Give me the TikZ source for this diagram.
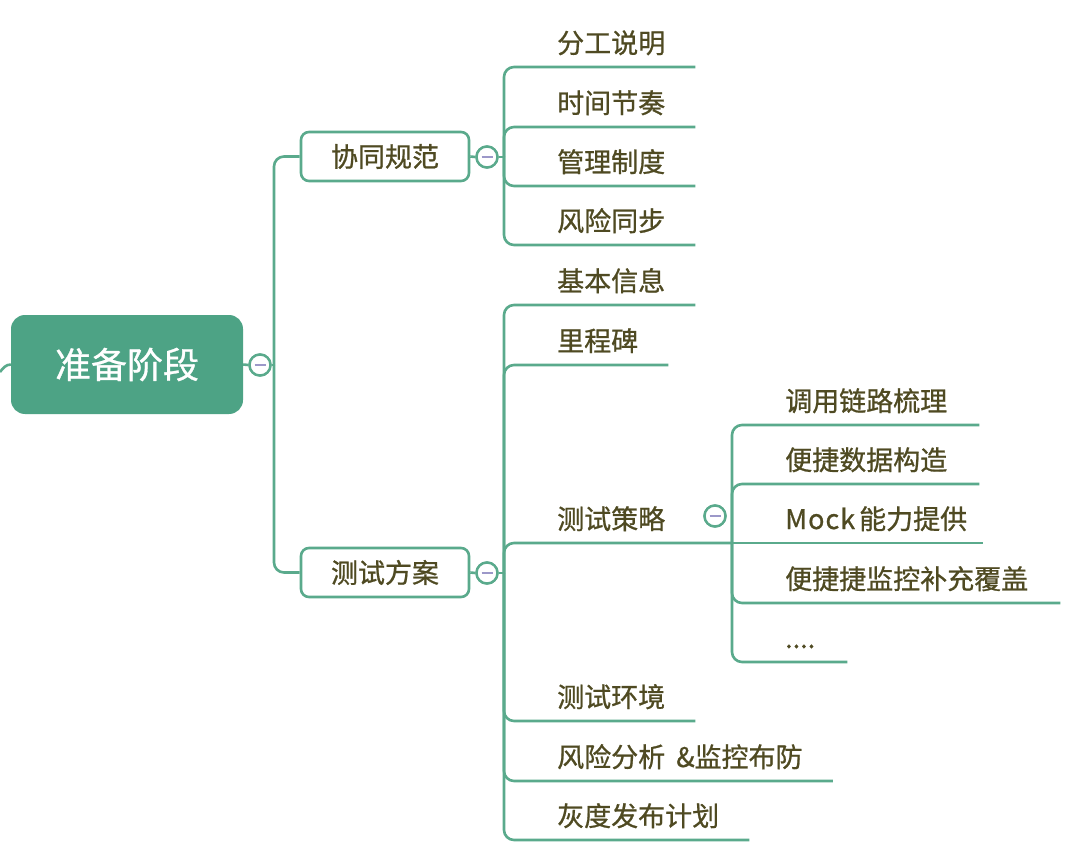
\documentclass[tikz,border=0pt]{standalone}
\usepackage{fontspec}
\setmainfont[FakeBold=0.8]{Noto Sans CJK SC}
\usetikzlibrary{calc}
\definecolor{teal1}{HTML}{5AAA8C}
\definecolor{rootfill}{HTML}{4DA385}
\definecolor{txt}{HTML}{4F4A22}
\definecolor{minuscol}{HTML}{9C98C9}
\begin{document}
\begin{tikzpicture}[x=1pt,y=-1pt,
 conn/.style={draw=teal1, line width=2.6pt, rounded corners=10pt},
 leaf/.style={anchor=base west, inner sep=0pt, text=txt, font=\fontsize{27}{27}\selectfont},
 topic/.style={draw=teal1, line width=2.6pt, rounded corners=8pt, fill=white, minimum width=168pt, minimum height=49pt, text=txt, font=\fontsize{27}{27}\selectfont, inner sep=0pt},
 rootbox/.style={fill=rootfill, rounded corners=14pt, minimum width=232pt, minimum height=99pt, text=white, font=\fontsize{36}{36}\selectfont, inner sep=0pt},
 btn/.style={circle, draw=teal1, line width=2.4pt, fill=white, minimum size=21pt, inner sep=0pt,
   path picture={\draw[minuscol, line width=2.6pt] ([xshift=-5.5pt]path picture bounding box.center) -- ([xshift=5.5pt]path picture bounding box.center);}}
]
\fill[white] (0,0) rectangle (1080,856);
\useasboundingbox (0,0) rectangle (1080,856);

% root and topics
\node[rootbox] (root) at (127,364.5) {准备阶段};
\node[topic] (b1) at (385,156.5) {协同规范};
\node[topic] (b2) at (385,572.5) {测试方案};

\coordinate (lft) at (0,372);
\coordinate (j0) at (274,365);
\coordinate (j1) at (504,157);
\coordinate (j2) at (504,573);
\coordinate (j3) at (732,543);

% leaves of 协同规范
\node[leaf] (a1) at (557,53) {分工说明};
\node[leaf] (a2) at (557,113) {时间节奏};
\node[leaf] (a3) at (557,172) {管理制度};
\node[leaf] (a4) at (557,231) {风险同步};

% leaves of 测试方案
\node[leaf] (t1) at (557,291) {基本信息};
\node[leaf] (t2) at (557,351) {里程碑};
\node[leaf] (t3) at (557,529) {测试策略};
\node[leaf] (t4) at (557,707) {测试环境};
\node[leaf] (t5) at (557,767) {风险分析 \hspace{5pt}\&监控布防};
\node[leaf] (t6) at (557,826) {灰度发布计划};

% leaves of 测试策略
\node[leaf] (s1) at (785,411) {调用链路梳理};
\node[leaf] (s2) at (785,470) {便捷数据构造};
\node[leaf] (s3) at (785,529) {M\hspace{1pt}o\hspace{1pt}c\hspace{1pt}k\hspace{4pt}能力提供};
\node[leaf] (s4) at (785,589) {便捷捷监控补充覆盖};
\node[leaf] (s5) at (785,648) {....};

% buttons
\node[btn] (cr) at (260,365) {};
\node[btn] (cb1) at (487,157) {};
\node[btn] (cb2) at (487,573) {};
\node[btn] (cs) at (715,516) {};

% connectors
\draw[conn, rounded corners=0pt] (root.west) .. controls (6,364.5) and (3,368) .. (lft);
\draw[conn] (root.east) -- (cr.west);
\draw[conn] (cr.east) -- (j0);
\draw[conn] (j0) |- (b1.west);
\draw[conn] (j0) |- (b2.west);
\draw[conn] (b1.east) -- (cb1.west);
\draw[conn] (cb1.east) -- (j1);
\draw[conn] (b2.east) -- (cb2.west);
\draw[conn] (cb2.east) -- (j2);

\foreach \n in {a1,a2,a3,a4}{
  \draw[conn] (j1) |- ($(\n.base east)+(30,14)$);
}
\foreach \n in {t1,t2,t4,t5,t6}{
  \draw[conn] (j2) |- ($(\n.base east)+(30,14)$);
}
\draw[conn] (j2) |- (j3);
\foreach \n in {s1,s2,s4,s5}{
  \draw[conn] (j3) |- ($(\n.base east)+(32,14)$);
}
\draw[conn] (j3) -- ($(s3.base east)+(16,14)$);

% redraw buttons on top
\node[btn] at (cr) {};
\node[btn] at (cb1) {};
\node[btn] at (cb2) {};
\node[btn] at (cs) {};
\end{tikzpicture}
\end{document}
